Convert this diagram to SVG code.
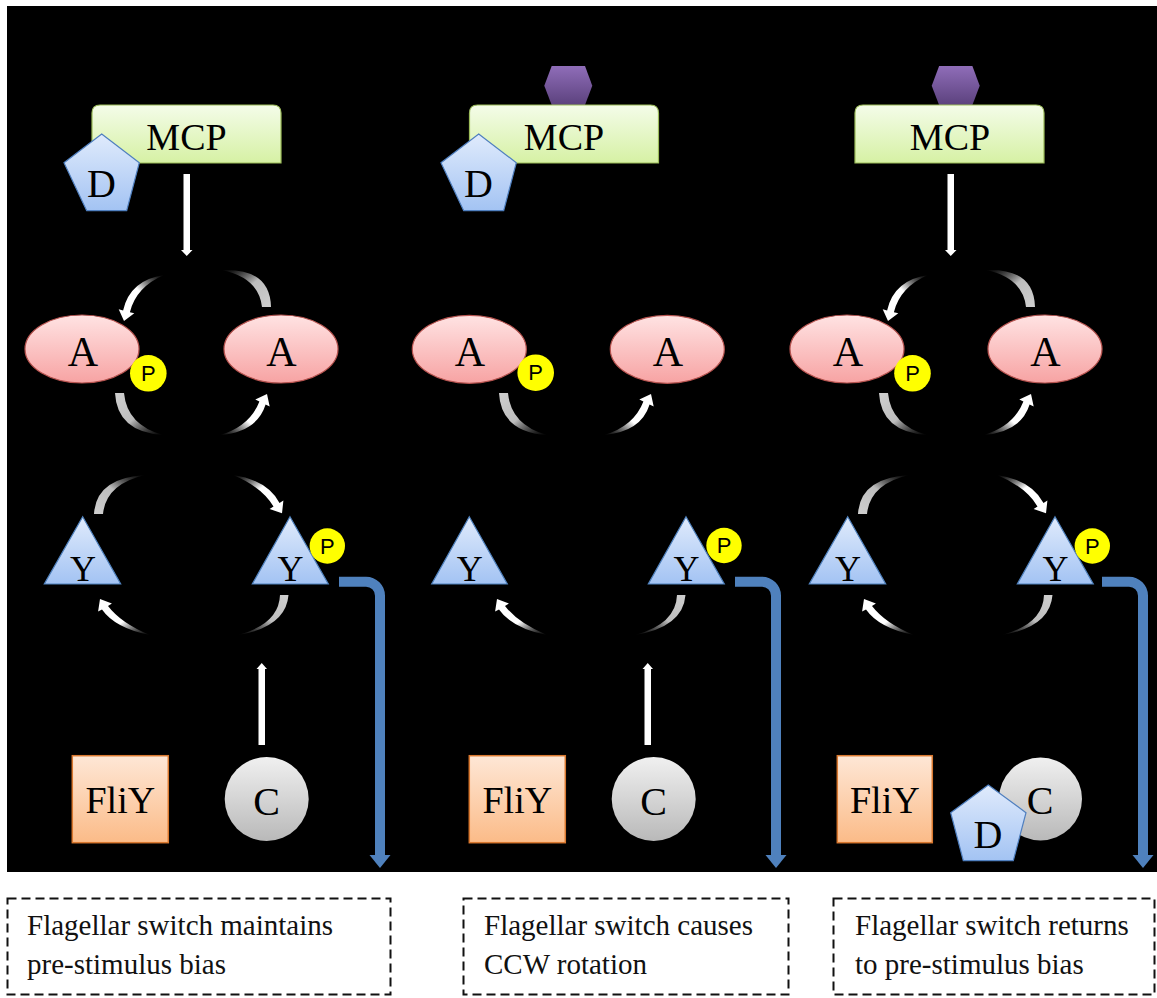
<svg xmlns="http://www.w3.org/2000/svg" width="1157" height="998" viewBox="0 0 1157 998">
  <style>
    .lbl { font-family: "Liberation Serif", "Times New Roman", serif; fill: #000; text-anchor: middle; }
    .ptxt { font-family: "Liberation Sans", Arial, sans-serif; font-size: 22px; fill: #000; text-anchor: middle; }
    .cap { font-family: "Liberation Serif", "Times New Roman", serif; font-size: 29px; fill: #111; }
    .mcp { fill: url(#gMcp); stroke: #9bbb59; stroke-width: 1.2; }
    .dpent { fill: url(#gBlue); stroke: #4f7fbf; stroke-width: 1.2; }
    .aell { fill: url(#gPink); stroke: #b85450; stroke-width: 1.2; }
    .ytri { fill: url(#gBlue); stroke: #4f81bd; stroke-width: 1.2; }
    .fliy { fill: url(#gOrange); stroke: #d9782f; stroke-width: 1.5; }
    .cball { fill: url(#gGray); }
    .phos { fill: #ffff00; }
    .lig { fill: url(#gPurple); }
    .wline { fill: #fff; }
    .blue { fill: none; stroke: #4f81bd; stroke-width: 10; }
    .bluehead { fill: #4f81bd; }
    .box { fill: #fff; stroke: #111; stroke-width: 2; stroke-dasharray: 9 5; }
  </style>
  <defs>
    <linearGradient id="gMcp" x1="0" y1="0" x2="0" y2="1">
      <stop offset="0" stop-color="#f4fce9"/>
      <stop offset="1" stop-color="#d6f1a4"/>
    </linearGradient>
    <linearGradient id="gBlue" x1="0" y1="0" x2="0" y2="1">
      <stop offset="0" stop-color="#e0ebfc"/>
      <stop offset="1" stop-color="#a3c3f3"/>
    </linearGradient>
    <linearGradient id="gPink" x1="0" y1="0" x2="0" y2="1">
      <stop offset="0" stop-color="#ffe3e3"/>
      <stop offset="1" stop-color="#f7a3a3"/>
    </linearGradient>
    <linearGradient id="gOrange" x1="0" y1="0" x2="0" y2="1">
      <stop offset="0" stop-color="#fee7d6"/>
      <stop offset="1" stop-color="#fbbb88"/>
    </linearGradient>
    <linearGradient id="gGray" x1="0" y1="0" x2="0" y2="1">
      <stop offset="0" stop-color="#f0f0f0"/>
      <stop offset="1" stop-color="#b9b9b9"/>
    </linearGradient>
    <linearGradient id="gPurple" x1="0" y1="0" x2="0" y2="1">
      <stop offset="0" stop-color="#8f6db8"/>
      <stop offset="1" stop-color="#5c427e"/>
    </linearGradient>

    <!-- white arrow bodies: solid at the head, fading at the thin tail -->
    <linearGradient id="wTR" x1="0" y1="1" x2="1" y2="0">
      <stop offset="0" stop-color="#fff"/>
      <stop offset="0.55" stop-color="#fff"/>
      <stop offset="1" stop-color="#777" stop-opacity="0"/>
    </linearGradient>
    <linearGradient id="wBL" x1="1" y1="0" x2="0" y2="1">
      <stop offset="0" stop-color="#fff"/>
      <stop offset="0.55" stop-color="#fff"/>
      <stop offset="1" stop-color="#777" stop-opacity="0"/>
    </linearGradient>
    <linearGradient id="wTL" x1="1" y1="1" x2="0" y2="0">
      <stop offset="0" stop-color="#fff"/>
      <stop offset="0.55" stop-color="#fff"/>
      <stop offset="1" stop-color="#777" stop-opacity="0"/>
    </linearGradient>
    <linearGradient id="wBR" x1="0" y1="0" x2="1" y2="1">
      <stop offset="0" stop-color="#fff"/>
      <stop offset="0.55" stop-color="#fff"/>
      <stop offset="1" stop-color="#777" stop-opacity="0"/>
    </linearGradient>
    <!-- grey tails: solid at the thick end, fading at the thin end -->
    <linearGradient id="gTL" x1="1" y1="1" x2="0" y2="0">
      <stop offset="0" stop-color="#cfcfcf"/>
      <stop offset="0.5" stop-color="#bdbdbd"/>
      <stop offset="1" stop-color="#555" stop-opacity="0"/>
    </linearGradient>
    <linearGradient id="gBR" x1="0" y1="0" x2="1" y2="1">
      <stop offset="0" stop-color="#cfcfcf"/>
      <stop offset="0.5" stop-color="#bdbdbd"/>
      <stop offset="1" stop-color="#555" stop-opacity="0"/>
    </linearGradient>
    <linearGradient id="gTR" x1="0" y1="1" x2="1" y2="0">
      <stop offset="0" stop-color="#cfcfcf"/>
      <stop offset="0.5" stop-color="#bdbdbd"/>
      <stop offset="1" stop-color="#555" stop-opacity="0"/>
    </linearGradient>
    <linearGradient id="gBL" x1="1" y1="0" x2="0" y2="1">
      <stop offset="0" stop-color="#cfcfcf"/>
      <stop offset="0.5" stop-color="#bdbdbd"/>
      <stop offset="1" stop-color="#555" stop-opacity="0"/>
    </linearGradient>

    <!-- cycle arcs, drawn at the first panel's position -->
    <path id="arcATopL" fill="url(#wTR)" d="M164 275 Q130 280 123.1 310.4 L118.7 309.3 L124 321 L134.3 313.3 L129.9 312.2 Q136 287 164 275 Z"/>
    <path id="arcATopR" fill="url(#gTL)" d="M222 270 Q270 268 271 307 L262 307 Q259 278 222 270 Z"/>
    <path id="arcABotL" fill="url(#gBR)" d="M115 393 L124 393 Q127 425 163 435 Q117 432 115 393 Z"/>
    <path id="arcABotR" fill="url(#wBL)" d="M220 435 Q257 432 265.6 404.6 L269.7 406.6 L267 394 L255.3 399.4 L259.4 401.4 Q250 426 220 435 Z"/>
    <path id="arcYTopL" fill="url(#gTR)" d="M94 514 L103 514 Q106 484 145 475 Q96 478 94 514 Z"/>
    <path id="arcYTopR" fill="url(#wTL)" d="M233 475 Q267 480 279.5 502.9 L283.4 500.5 L282 513.3 L269.6 508.9 L273.5 506.5 Q262 487 233 475 Z"/>
    <path id="arcYBotL" fill="url(#wBR)" d="M150 635 Q115 628 102 609.4 L98.1 611.6 L100 599 L111.9 603.6 L108 605.9 Q121 623 150 635 Z"/>
    <path id="arcYBotR" fill="url(#gBL)" d="M280 595 L288.5 595 Q286 627 238 635 Q279 624 280 595 Z"/>

    <!-- straight white signal arrows -->
    <path id="mcpArrow" class="wline" d="M183.5 174 H190 V250 H192.5 L186.75 256 L181 250 H183.5 Z"/>
    <path id="cArrow" class="wline" d="M258.5 745 V669 H256.5 L261.75 663 L267 669 H265 V745 Z"/>
    <!-- blue output arrow to the flagellar switch -->
    <g id="blueArrow">
      <path class="blue" d="M339 581.7 H366 A14 14 0 0 1 380 595.7 V857"/>
      <polygon class="bluehead" points="369.5,855 390.5,855 380,868"/>
    </g>

    <!-- reusable node shapes -->
    <path id="mcpShape" class="mcp" d="M92 163 V113 Q92 105 100 105 H273 Q281 105 281 113 V163 Z"/>
    <polygon id="dShape" class="dpent" points="101.7,134 139.3,162.7 126.7,210.7 86.7,210.7 64,162.7"/>
    <polygon id="ligShape" class="lig" points="551.7,66 585,66 592.3,85.7 585,105 551.7,105 544.3,85.7"/>
  </defs>

  <!-- page and dark stage -->
  <rect x="0" y="0" width="1157" height="998" fill="#fff"/>
  <rect x="7" y="6" width="1150" height="866" fill="#000"/>

  <!-- ===== connectors ===== -->
  <g id="connectors">
    <!-- panel 1 -->
    <use href="#mcpArrow"/>
    <use href="#arcATopL"/>
    <use href="#arcATopR"/>
    <use href="#arcABotL"/>
    <use href="#arcABotR"/>
    <use href="#arcYTopL"/>
    <use href="#arcYTopR"/>
    <use href="#arcYBotL"/>
    <use href="#arcYBotR"/>
    <use href="#cArrow"/>
    <use href="#blueArrow"/>
    <!-- panel 2 -->
    <use href="#arcABotL" transform="translate(384 0)"/>
    <use href="#arcABotR" transform="translate(384 0)"/>
    <use href="#arcYBotL" transform="translate(397 0)"/>
    <use href="#arcYBotR" transform="translate(397 0)"/>
    <use href="#cArrow" transform="translate(386 0)"/>
    <use href="#blueArrow" transform="translate(396 0)"/>
    <!-- panel 3 -->
    <use href="#mcpArrow" transform="translate(764 0)"/>
    <use href="#arcATopL" transform="translate(764 0)"/>
    <use href="#arcATopR" transform="translate(764 0)"/>
    <use href="#arcABotL" transform="translate(764 0)"/>
    <use href="#arcABotR" transform="translate(764 0)"/>
    <use href="#arcYTopL" transform="translate(764 0)"/>
    <use href="#arcYTopR" transform="translate(764 0)"/>
    <use href="#arcYBotL" transform="translate(764 0)"/>
    <use href="#arcYBotR" transform="translate(764 0)"/>
    <use href="#blueArrow" transform="translate(763 0)"/>
  </g>

  <!-- ===== panel 1: no stimulus ===== -->
  <g id="mcp-1">
    <use href="#mcpShape"/>
    <text class="lbl" x="186.5" y="150" font-size="38">MCP</text>
  </g>
  <g id="cheD-1">
    <use href="#dShape"/>
    <text class="lbl" x="101.5" y="197" font-size="40">D</text>
  </g>
  <g id="cheA-p-1">
    <ellipse class="aell" cx="82" cy="349" rx="57" ry="34"/>
    <text class="lbl" x="83" y="366" font-size="42">A</text>
    <circle class="phos" cx="148.3" cy="373.3" r="18.3"/>
    <text class="ptxt" x="148.3" y="381">P</text>
  </g>
  <g id="cheA-1">
    <ellipse class="aell" cx="281" cy="349" rx="57" ry="34"/>
    <text class="lbl" x="281.3" y="366" font-size="42">A</text>
  </g>
  <g id="cheY-1">
    <polygon class="ytri" points="82.7,516.7 120.7,584 44.3,584"/>
    <text class="lbl" x="83" y="580.5" font-size="36">Y</text>
  </g>
  <g id="cheY-p-1">
    <polygon class="ytri" points="290,516.7 328.3,584 252.3,584"/>
    <text class="lbl" x="290.5" y="580.5" font-size="36">Y</text>
    <circle class="phos" cx="327.3" cy="546" r="17.7"/>
    <text class="ptxt" x="327.3" y="553.7">P</text>
  </g>
  <g id="fliY-1">
    <rect class="fliy" x="72.3" y="755.7" width="96" height="87"/>
    <text class="lbl" x="120.3" y="813" font-size="38">FliY</text>
  </g>
  <g id="cheC-1">
    <circle class="cball" cx="266.7" cy="799" r="42"/>
    <text class="lbl" x="266.5" y="815" font-size="40">C</text>
  </g>
  <g id="caption-1">
    <rect class="box" x="7.5" y="898.5" width="383" height="96"/>
    <text class="cap" x="27" y="935">Flagellar switch maintains</text>
    <text class="cap" x="27" y="974">pre-stimulus bias</text>
  </g>

  <!-- ===== panel 2: attractant bound ===== -->
  <g id="attractant-2">
    <use href="#ligShape"/>
  </g>
  <g id="mcp-2">
    <use href="#mcpShape" transform="translate(377.5 0)"/>
    <text class="lbl" x="564" y="150" font-size="38">MCP</text>
  </g>
  <g id="cheD-2">
    <use href="#dShape" transform="translate(377 0)"/>
    <text class="lbl" x="478.5" y="197" font-size="40">D</text>
  </g>
  <g id="cheA-p-2">
    <ellipse class="aell" cx="469.3" cy="349.3" rx="57" ry="34"/>
    <text class="lbl" x="470" y="366" font-size="42">A</text>
    <circle class="phos" cx="535.7" cy="372.7" r="18.3"/>
    <text class="ptxt" x="535.7" y="380.4">P</text>
  </g>
  <g id="cheA-2">
    <ellipse class="aell" cx="667.3" cy="349.3" rx="57" ry="34"/>
    <text class="lbl" x="667.8" y="366" font-size="42">A</text>
  </g>
  <g id="cheY-2">
    <polygon class="ytri" points="469.3,516.7 507.3,584 431.7,584"/>
    <text class="lbl" x="469.7" y="580.5" font-size="36">Y</text>
  </g>
  <g id="cheY-p-2">
    <polygon class="ytri" points="686,516.7 724.3,584 648.3,584"/>
    <text class="lbl" x="686.5" y="580.5" font-size="36">Y</text>
    <circle class="phos" cx="724" cy="545.5" r="17.7"/>
    <text class="ptxt" x="724" y="553.2">P</text>
  </g>
  <g id="fliY-2">
    <rect class="fliy" x="469.3" y="755.7" width="96" height="87"/>
    <text class="lbl" x="517.3" y="813" font-size="38">FliY</text>
  </g>
  <g id="cheC-2">
    <circle class="cball" cx="653.7" cy="799" r="42"/>
    <text class="lbl" x="653.5" y="815" font-size="40">C</text>
  </g>
  <g id="caption-2">
    <rect class="box" x="463.5" y="898.5" width="325" height="96"/>
    <text class="cap" x="484" y="935">Flagellar switch causes</text>
    <text class="cap" x="484" y="974">CCW rotation</text>
  </g>

  <!-- ===== panel 3: adaptation ===== -->
  <g id="attractant-3">
    <use href="#ligShape" transform="translate(387.4 0)"/>
  </g>
  <g id="mcp-3">
    <use href="#mcpShape" transform="translate(763 0)"/>
    <text class="lbl" x="950" y="150" font-size="38">MCP</text>
  </g>
  <g id="cheA-p-3">
    <ellipse class="aell" cx="847" cy="349" rx="57" ry="34"/>
    <text class="lbl" x="848" y="366" font-size="42">A</text>
    <circle class="phos" cx="912.5" cy="373.3" r="18.3"/>
    <text class="ptxt" x="912.5" y="381">P</text>
  </g>
  <g id="cheA-3">
    <ellipse class="aell" cx="1045" cy="349" rx="57" ry="34"/>
    <text class="lbl" x="1045.3" y="366" font-size="42">A</text>
  </g>
  <g id="cheY-3">
    <polygon class="ytri" points="847.7,516.7 885.7,584 809.3,584"/>
    <text class="lbl" x="848" y="580.5" font-size="36">Y</text>
  </g>
  <g id="cheY-p-3">
    <polygon class="ytri" points="1055,516.7 1093.3,584 1017.3,584"/>
    <text class="lbl" x="1055.5" y="580.5" font-size="36">Y</text>
    <circle class="phos" cx="1092.3" cy="546" r="17.7"/>
    <text class="ptxt" x="1092.3" y="553.7">P</text>
  </g>
  <g id="fliY-3">
    <rect class="fliy" x="837.3" y="755.7" width="95" height="87"/>
    <text class="lbl" x="884.8" y="813" font-size="38">FliY</text>
  </g>
  <g id="cheC-3">
    <circle class="cball" cx="1040.5" cy="799" r="41.5"/>
    <text class="lbl" x="1040" y="814" font-size="40">C</text>
  </g>
  <g id="cheD-3">
    <polygon class="dpent" points="988.3,785 1026,812.7 1013.3,860.7 963.3,860.7 950.7,812.7"/>
    <text class="lbl" x="988" y="848" font-size="40">D</text>
  </g>
  <g id="caption-3">
    <rect class="box" x="833.5" y="898.5" width="321" height="96"/>
    <text class="cap" x="855" y="935">Flagellar switch returns</text>
    <text class="cap" x="855" y="974">to pre-stimulus bias</text>
  </g>
</svg>
